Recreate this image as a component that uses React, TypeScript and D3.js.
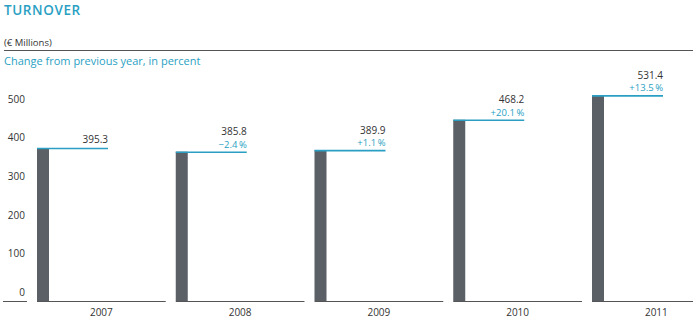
import React from "react";
import * as d3 from "d3";

const years = ["2007", "2008", "2009", "2010", "2011"];
const turnover = [395.3, 385.8, 389.9, 468.2, 531.4];
const changeLabels = ["", "\u22122.4\u2009%", "+1.1\u2009%", "+20.1\u2009%", "+13.5\u2009%"];
const yTicks = [0, 100, 200, 300, 400, 500];

const W = 693;
const H = 324;
const BLUE = "#2a9fc3";
const DARK = "#333333";
const BAR = "#5b6066";
const FONT = "'Open Sans', 'Noto Sans', sans-serif";

export default function App() {
  const baseY = 301;
  const y = d3.scaleLinear().domain([0, 500]).range([baseY, baseY - 500 * 0.387]);
  const x = d3
    .scaleBand<string>()
    .domain(years)
    .range([37, 37 + 4 * 138.75 + 128.75])
    .paddingInner(10 / 138.75)
    .paddingOuter(0);
  const barW = 12;
  const lineLen = 71;

  return (
    <div style={{ position: "absolute", left: 0, top: 0 }}>
      <svg width={W} height={H} style={{ display: "block", fontFamily: FONT }}>
        <text x={4} y={15} fill={BLUE} fontSize={13.5} fontWeight={600} letterSpacing={0.6}>
          TURNOVER
        </text>
        <text x={4} y={45.5} fill={DARK} fontSize={9.5}>
          (€ Millions)
        </text>
        <line x1={4} x2={W} y1={50.5} y2={50.5} stroke="#555" strokeWidth={1} />
        <text x={4} y={65} fill={BLUE} fontSize={11}>
          Change from previous year, in percent
        </text>

        {yTicks.map((t) => (
          <text key={t} x={25} y={y(t) - 5} textAnchor="end" fill={DARK} fontSize={10}>
            {t}
          </text>
        ))}
        <line x1={3} x2={27} y1={baseY + 0.5} y2={baseY + 0.5} stroke="#555" strokeWidth={1} />

        {years.map((yr, i) => {
          const x0 = x(yr)!;
          const top = y(turnover[i]);
          const hasPct = changeLabels[i] !== "";
          return (
            <g key={yr}>
              <line
                x1={x0}
                x2={x0 + x.bandwidth()}
                y1={baseY + 0.5}
                y2={baseY + 0.5}
                stroke="#555"
                strokeWidth={1}
              />
              <rect x={x0} y={top} width={barW} height={baseY - top} fill={BAR} />
              <line x1={x0} x2={x0 + lineLen} y1={top + 0.5} y2={top + 0.5} stroke={BLUE} strokeWidth={1.6} />
              {hasPct && (
                <text x={x0 + lineLen} y={top - 4} textAnchor="end" fill={BLUE} fontSize={9.5}>
                  {changeLabels[i]}
                </text>
              )}
              <text
                x={x0 + lineLen}
                y={hasPct ? top - 16.5 : top - 5}
                textAnchor="end"
                fill={DARK}
                fontSize={10}
              >
                {turnover[i].toFixed(1)}
              </text>
              <text x={x0 + x.bandwidth() / 2} y={316} textAnchor="middle" fill={DARK} fontSize={10}>
                {yr}
              </text>
            </g>
          );
        })}
      </svg>
    </div>
  );
}
